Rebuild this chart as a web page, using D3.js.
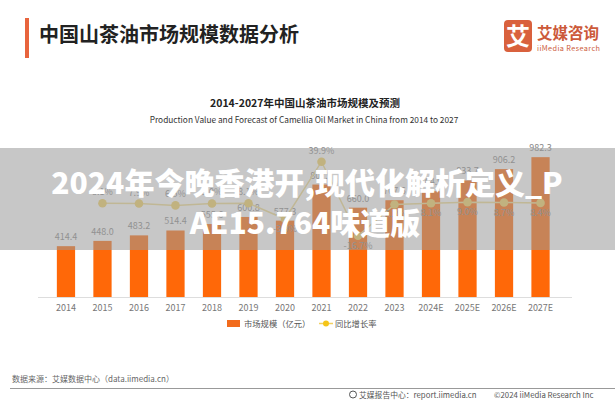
<!DOCTYPE html>
<html><head><meta charset="utf-8">
<script src="https://cdn.jsdelivr.net/npm/d3@7/dist/d3.min.js"></script>
<style>html,body{margin:0;padding:0;background:#fff}svg{display:block;font-family:"Noto Sans CJK SC","Noto Sans",sans-serif}</style>
</head><body>
<svg id="c" width="615" height="400"></svg>
<script>
const years = ["2014","2015","2016","2017","2018","2019","2020","2021","2022","2023","2024E","2025E","2026E","2027E"];
const marketSize = [414.4,448.0,483.2,514.4,555.6,600.8,577.3,807.7,660.0,707.6,764.9,833.7,906.2,982.3];
const growthRate = [null,8.1,7.9,6.5,8.0,8.1,-3.9,39.9,-16.7,7.2,8.1,9.0,8.7,8.4];
const growthBelow = [false,false,false,false,false,false,true,false,true,true,true,true,true,true];
const legendLabels = ["市场规模（亿元）","同比增长率"];

const svg = d3.select("#c");
svg.append("rect").attr("width",615).attr("height",400).attr("fill","#fff");

// header
svg.append("rect").attr("x",25).attr("y",18).attr("width",4).attr("height",40).attr("fill","#e8643d");
svg.append("text").attr("x",39).attr("y",42).attr("font-size",20).attr("font-weight","bold").attr("fill","#222").text("中国山茶油市场规模数据分析");
svg.append("rect").attr("x",504).attr("y",20).attr("width",28).attr("height",32).attr("rx",4).attr("fill","#d9613d");
svg.append("text").attr("x",518).attr("y",45).attr("text-anchor","middle").attr("font-size",24).attr("font-weight","bold").attr("fill","#fff").text("艾");
svg.append("text").attr("x",537).attr("y",39).attr("font-size",15.5).attr("font-weight","bold").attr("fill","#cc5a3a").text("艾媒咨询");
svg.append("text").attr("x",537).attr("y",51).attr("font-size",7.3).attr("fill","#cc5a3a").attr("textLength",63).text("iiMedia Research");

// chart titles
svg.append("text").attr("x",305).attr("y",107).attr("text-anchor","middle").attr("font-size",10.5).attr("font-weight","bold").attr("fill","#222").text("2014-2027年中国山茶油市场规模及预测");
svg.append("text").attr("x",304).attr("y",123).attr("text-anchor","middle").attr("font-size",8.3).attr("fill","#333").text("Production Value and Forecast of Camellia Oil Market in China from 2014 to 2027");

const x = d3.scaleBand().domain(years).range([38.6,567.9]).padding(0.5);
const y = d3.scaleLinear().domain([90,1000]).range([297,154.4]);
const yg = d3.scaleLinear().domain([-20,45]).range([240.06,155.04]);

const g = svg.append("g");
g.selectAll("rect.bar").data(years).join("rect").attr("class","bar")
  .attr("x",d=>x(d)).attr("width",x.bandwidth())
  .attr("y",(d,i)=>y(marketSize[i])).attr("height",(d,i)=>y(90)-y(marketSize[i]))
  .attr("fill","#ff6808");
g.selectAll("text.bl").data(years).join("text").attr("class","bl")
  .attr("x",d=>x(d)+x.bandwidth()/2).attr("y",(d,i)=>y(marketSize[i])-6)
  .attr("text-anchor","middle").attr("font-size",9).attr("fill","#888")
  .text((d,i)=>marketSize[i].toFixed(1));

// axis
const ax = g.append("g").attr("transform","translate(0,297)").call(d3.axisBottom(x).tickSize(0).tickPadding(8));
ax.select(".domain").attr("stroke","#ddd").attr("d","M38,0.5H572");
ax.selectAll("text").attr("font-size",9).attr("fill","#777").attr("font-family","Noto Sans CJK SC");

// growth line
const pts = years.map((d,i)=>({d,i,v:growthRate[i]})).filter(p=>p.v!==null);
const line = d3.line().x(p=>x(p.d)+x.bandwidth()/2).y(p=>yg(p.v));
g.append("path").datum(pts).attr("d",line).attr("fill","none").attr("stroke","#f0dc90").attr("stroke-width",1.5);
g.selectAll("circle.gd").data(pts).join("circle").attr("class","gd")
  .attr("cx",p=>x(p.d)+x.bandwidth()/2).attr("cy",p=>yg(p.v)).attr("r",4.3).attr("fill","#f2d060");
g.selectAll("text.gl").data(pts).join("text").attr("class","gl")
  .attr("x",p=>x(p.d)+x.bandwidth()/2).attr("y",p=>growthBelow[p.i]?yg(p.v)+13:yg(p.v)-8)
  .attr("text-anchor","middle").attr("font-size",9).attr("fill","#888")
  .text(p=>p.v.toFixed(1)+"%");

// legend
const lg = svg.append("g");
lg.append("rect").attr("x",227).attr("y",320).attr("width",13).attr("height",7).attr("fill","#f26b1d");
lg.append("text").attr("x",244).attr("y",327).attr("font-size",8.3).attr("fill","#555").text(legendLabels[0]);
lg.append("line").attr("x1",319).attr("x2",333).attr("y1",323.5).attr("y2",323.5).attr("stroke","#f2d060").attr("stroke-width",1.5);
lg.append("circle").attr("cx",326).attr("cy",323.5).attr("r",3).attr("fill","#f5c518");
lg.append("text").attr("x",335).attr("y",327).attr("font-size",8.3).attr("fill","#555").text(legendLabels[1]);

// footer
svg.append("text").attr("x",12).attr("y",382).attr("font-size",8).attr("fill","#666").text("数据来源：艾媒数据中心（data.iimedia.cn）");
svg.append("line").attr("x1",10).attr("x2",615).attr("y1",388.5).attr("y2",388.5).attr("stroke","#999").attr("stroke-width",1);
svg.append("circle").attr("cx",353).attr("cy",394.5).attr("r",3.5).attr("fill","none").attr("stroke","#555").attr("stroke-width",1);
svg.append("text").attr("x",359).attr("y",397.5).attr("font-size",7.8).attr("fill","#555").text("艾媒报告中心：report.iimedia.cn");
svg.append("text").attr("x",494).attr("y",397.5).attr("font-size",7.8).attr("fill","#555").text("©2024  iiMedia Research  Inc");

// watermark overlay band
svg.append("rect").attr("x",0).attr("y",148).attr("width",615).attr("height",102).attr("fill","#999").attr("opacity",0.55);
svg.append("text").attr("x",307).attr("y",194).attr("text-anchor","middle").attr("font-size",30).attr("font-weight",900).attr("fill","#fff").text("2024年今晚香港开,现代化解析定义_P");
svg.append("text").attr("x",305).attr("y",234).attr("text-anchor","middle").attr("font-size",30).attr("font-weight",900).attr("fill","#fff").text("AE15.764味道版");
</script>
</body></html>
